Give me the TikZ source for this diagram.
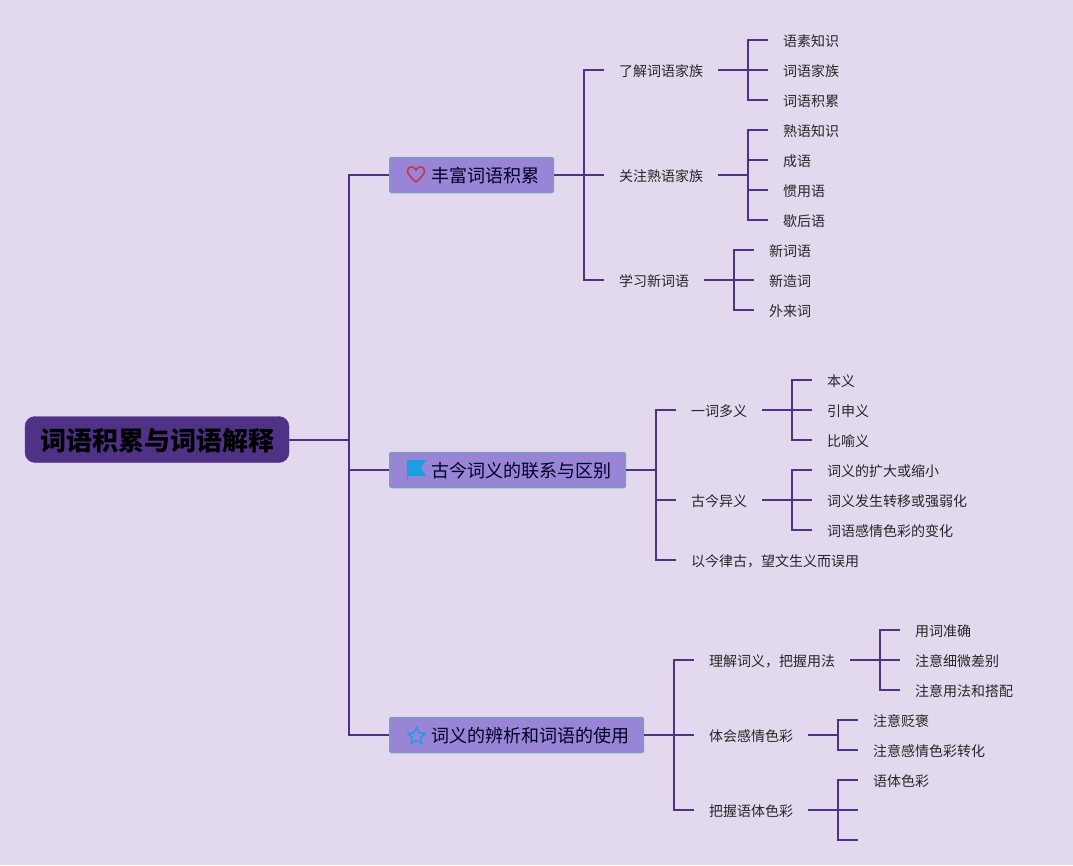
\documentclass[tikz,border=0pt]{standalone}
\usepackage{fontspec}
\setmainfont{Noto Sans CJK SC}
\usepackage{xcolor}
\definecolor{map_bg}{RGB}{227, 217, 238}
\definecolor{map_line}{RGB}{79, 50, 133}
\definecolor{map_topic}{RGB}{152, 133, 214}
\definecolor{map_border}{RGB}{125, 155, 192}
\definecolor{map_heart}{RGB}{200, 52, 74}
\definecolor{map_blue}{RGB}{28, 158, 224}
\tikzset{
  branch/.style={line width=2pt, map_line},
  rootbox/.style={draw=map_line, fill=map_line, rounded corners=10pt, minimum width=264pt, minimum height=46pt, inner sep=0pt, text height=24pt, text depth=2pt, font=\fontsize{26}{30}\selectfont\bfseries, text=black},
  topicbox/.style={draw=map_border, fill=map_topic, line width=1.5pt, rounded corners=2pt, anchor=west, minimum height=35pt, inner xsep=14.3pt, inner ysep=0pt, text height=17pt, text depth=2pt, text=black!85!blue, font=\fontsize{18}{20}\selectfont, execute at begin node=\hspace*{27pt}},
  leaf/.style={anchor=west, inner xsep=15pt, inner ysep=0pt, text height=13pt, text depth=1pt, text=black!85, font=\fontsize{14}{16}\selectfont},
}
\begin{document}
\begin{tikzpicture}[x=1pt, y=-1pt]

  % fondo
  \fill[map_bg] (0,0) rectangle (1073,865);
  \useasboundingbox (0,0) rectangle (1073,865);

  % 1. Raiz y temas
  \node[rootbox] (root) at (157,439.5) {词语积累与词语解释};
  \node[topicbox] (rich) at (389,175) {丰富词语积累};
  \node[topicbox] (relation) at (389,470) {古今词义的联系与区别};
  \node[topicbox] (usage) at (389,735) {词义的辨析和词语的使用};

  % 2. Iconos de los temas
  \draw[map_heart, line width=1.6pt, line join=round] (416,182) .. controls (410,176.5) and (407.5,174) .. (407.5,171) .. controls (407.5,166) and (414,165.5) .. (416,170) .. controls (418,165.5) and (424.5,166) .. (424.5,171) .. controls (424.5,174) and (422,176.5) .. (416,182) -- cycle;
  \fill[map_blue] (407,460) -- (426,460) -- (421,468) -- (426,476) -- (408,476) -- (408,479) -- (407,479) -- cycle;
  \draw[map_blue, line width=1.4pt, line join=round] (416.5,727) -- (419,733) -- (425.5,733.5) -- (420.5,737.5) -- (422,743.5) -- (416.5,740.3) -- (411,743.5) -- (412.5,737.5) -- (407.5,733.5) -- (414,733) -- cycle;

  % 3. Primer tema
  \node[leaf] (family) at (604,70) {了解词语家族};
  \node[leaf] (idiom) at (604,175) {关注熟语家族};
  \node[leaf] (newword) at (604,280) {学习新词语};

  \node[leaf] (morpheme) at (768,40) {语素知识};
  \node[leaf] (wordfamily) at (768,70) {词语家族};
  \node[leaf] (wordstock) at (768,100) {词语积累};
  \node[leaf] (idiomknow) at (768,130) {熟语知识};
  \node[leaf] (chengyu) at (768,160) {成语};
  \node[leaf] (habitual) at (768,190) {惯用语};
  \node[leaf] (xiehou) at (768,220) {歇后语};
  \node[leaf] (neologism) at (754,250) {新词语};
  \node[leaf] (coined) at (754,280) {新造词};
  \node[leaf] (loanword) at (754,310) {外来词};

  % 4. Segundo tema
  \node[leaf] (polysemy) at (676,410) {一词多义};
  \node[leaf] (shift) at (676,500) {古今异义};
  \node[leaf] (misuse) at (676,560) {以今律古，望文生义而误用};

  \node[leaf] (basic) at (812,380) {本义};
  \node[leaf] (extended) at (812,410) {引申义};
  \node[leaf] (figure) at (812,440) {比喻义};
  \node[leaf] (scope) at (812,470) {词义的扩大或缩小};
  \node[leaf] (transfer) at (812,500) {词义发生转移或强弱化};
  \node[leaf] (tone) at (812,530) {词语感情色彩的变化};

  % 5. Tercer tema
  \node[leaf] (meaning) at (694,660) {理解词义，把握用法};
  \node[leaf] (feeling) at (694,735) {体会感情色彩};
  \node[leaf] (register) at (694,810) {把握语体色彩};

  \node[leaf] (accurate) at (900,630) {用词准确};
  \node[leaf] (subtle) at (900,660) {注意细微差别};
  \node[leaf] (collocate) at (900,690) {注意用法和搭配};
  \node[leaf] (praise) at (858,720) {注意贬褒};
  \node[leaf] (convert) at (858,750) {注意感情色彩转化};
  \node[leaf] (style) at (858,780) {语体色彩};
  \coordinate (blankmid) at (858,810);
  \coordinate (blanklow) at (858,840);

  % 6. Conectores
  \draw[branch] (root.east) -- (349,439.5) coordinate (rootbus);
  \foreach \kid in {rich, relation, usage}
    \draw[branch] (rootbus) |- (\kid.west);

  \draw[branch] (rich.east) -- ++(30,0) coordinate (richbus);
  \foreach \kid in {family, idiom, newword}
    \draw[branch] (richbus) |- (\kid.west);

  \draw[branch] (family.east) -- ++(30,0) coordinate (familybus);
  \foreach \kid in {morpheme, wordfamily, wordstock}
    \draw[branch] (familybus) |- (\kid.west);

  \draw[branch] (idiom.east) -- ++(30,0) coordinate (idiombus);
  \foreach \kid in {idiomknow, chengyu, habitual, xiehou}
    \draw[branch] (idiombus) |- (\kid.west);

  \draw[branch] (newword.east) -- ++(30,0) coordinate (newbus);
  \foreach \kid in {neologism, coined, loanword}
    \draw[branch] (newbus) |- (\kid.west);

  \draw[branch] (relation.east) -- ++(30,0) coordinate (relationbus);
  \foreach \kid in {polysemy, shift, misuse}
    \draw[branch] (relationbus) |- (\kid.west);

  \draw[branch] (polysemy.east) -- ++(30,0) coordinate (polybus);
  \foreach \kid in {basic, extended, figure}
    \draw[branch] (polybus) |- (\kid.west);

  \draw[branch] (shift.east) -- ++(30,0) coordinate (shiftbus);
  \foreach \kid in {scope, transfer, tone}
    \draw[branch] (shiftbus) |- (\kid.west);

  \draw[branch] (usage.east) -- ++(30,0) coordinate (usagebus);
  \foreach \kid in {meaning, feeling, register}
    \draw[branch] (usagebus) |- (\kid.west);

  \draw[branch] (meaning.east) -- ++(30,0) coordinate (meaningbus);
  \foreach \kid in {accurate, subtle, collocate}
    \draw[branch] (meaningbus) |- (\kid.west);

  \draw[branch] (feeling.east) -- ++(30,0) coordinate (feelingbus);
  \foreach \kid in {praise, convert}
    \draw[branch] (feelingbus) |- (\kid.west);

  \draw[branch] (register.east) -- ++(30,0) coordinate (registerbus);
  \foreach \kid in {style.west, blankmid, blanklow}
    \draw[branch] (registerbus) |- (\kid);

\end{tikzpicture}
\end{document}
